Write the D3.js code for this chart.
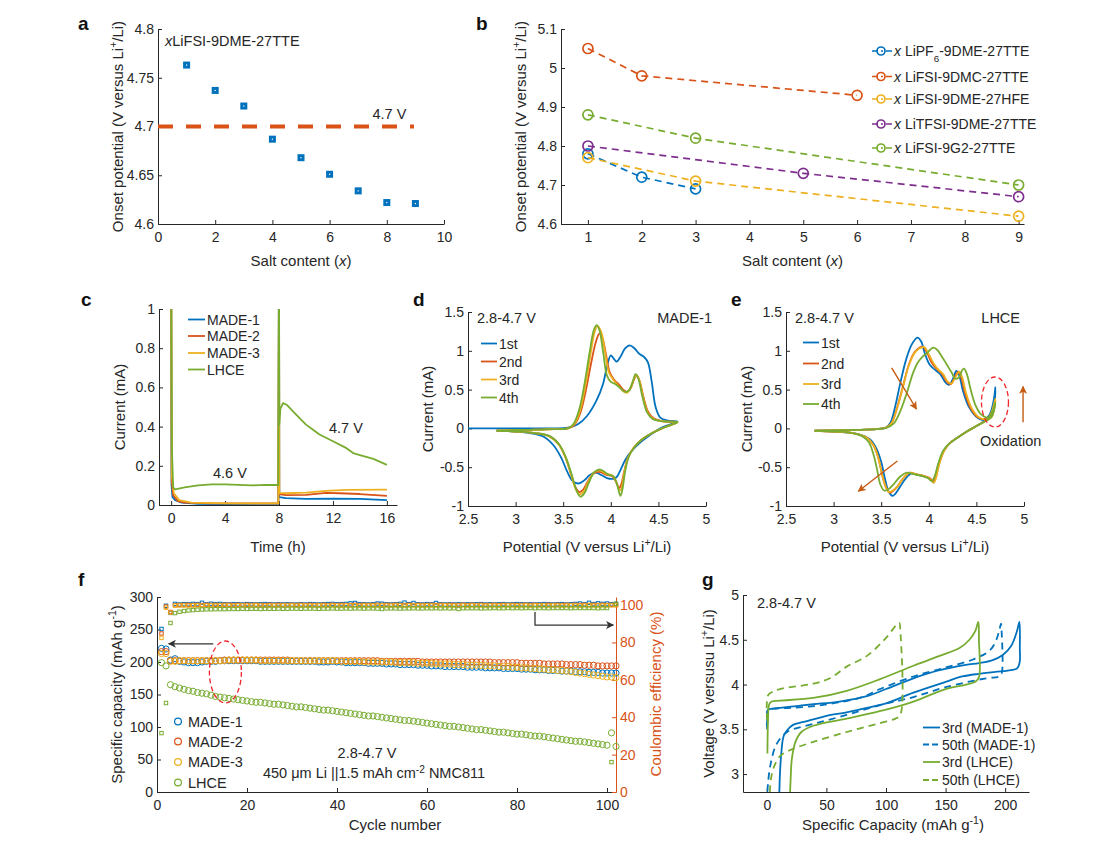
<!DOCTYPE html>
<html>
<head>
<meta charset="utf-8">
<script src="https://cdn.jsdelivr.net/npm/d3@7"></script>
<style>
  body { margin: 0; background: #fff; }
</style>
</head>
<body>
<script>
/* DATA */
// a: onset potential vs salt content
const saltA = [1, 2, 3, 4, 5, 6, 7, 8, 9];
const onsetA = [4.763, 4.737, 4.721, 4.687, 4.668, 4.651, 4.634, 4.622, 4.621];
const refLineA = [[0, 4.7], [8.95, 4.7]];

// b: five electrolyte families
const bLiPF6 = [[1, 4.78], [2, 4.72], [3, 4.69]];
const bDMC = [[1, 5.05], [2, 4.98], [6, 4.93]];
const bHFE = [[1, 4.77], [3, 4.71], [9, 4.62]];
const bTFSI = [[1, 4.80], [5, 4.73], [9, 4.67]];
const bG2 = [[1, 4.88], [3, 4.82], [9, 4.70]];
const bNames = ["*{x} LiPF_{6}-9DME-27TTE", "*{x} LiFSI-9DMC-27TTE", "*{x} LiFSI-9DME-27HFE", "*{x} LiTFSI-9DME-27TTE", "*{x} LiFSI-9G2-27TTE"];

// c: floating test current (time h, mA)
const cMADE1 = [[0, 1.3], [0.03, 0.1], [0.1, 0.04], [0.3, 0.025], [0.8, 0.012], [2, 0.006], [4, 0.005], [7.95, 0.006], [8, 1.3], [8.02, 0.04], [8.5, 0.035], [10, 0.031], [12, 0.033], [14, 0.031], [16, 0.025]];
const cMADE2 = [[0, 1.3], [0.04, 0.12], [0.15, 0.05], [0.5, 0.02], [1, 0.012], [3, 0.008], [7.95, 0.008], [8, 1.3], [8.02, 0.055], [8.5, 0.05], [10, 0.052], [11.5, 0.062], [12.5, 0.06], [14, 0.056], [16, 0.047]];
const cMADE3 = [[0, 1.3], [0.05, 0.15], [0.2, 0.06], [0.6, 0.025], [1.5, 0.012], [4, 0.008], [7.95, 0.008], [8, 1.3], [8.02, 0.062], [8.5, 0.06], [10, 0.063], [11.5, 0.072], [13, 0.077], [16, 0.078]];
const cLHCE = [[0, 1.3], [0.05, 0.3], [0.15, 0.09], [0.3, 0.08], [1, 0.09], [2, 0.1], [3, 0.105], [4, 0.105], [5, 0.103], [6, 0.1], [7, 0.103], [7.95, 0.102], [8, 1.3], [8.02, 0.41], [8.1, 0.49], [8.3, 0.52], [8.6, 0.51], [9, 0.48], [10, 0.41], [10.5, 0.385], [11, 0.36], [12, 0.325], [13, 0.29], [13.5, 0.265], [14, 0.255], [15, 0.235], [16, 0.205]];
const cNames = ["MADE-1", "MADE-2", "MADE-3", "LHCE"];

// d: CV of MADE-1 (V, mA)
const dCyc1 = [[2.5,0],[3.0,0],[3.4,0],[3.55,0.01],[3.65,0.05],[3.75,0.16],[3.85,0.36],[3.92,0.58],[3.96,0.8],[4.0,0.94],[4.03,0.9],[4.06,0.86],[4.1,0.92],[4.15,1.03],[4.2,1.07],[4.25,1.03],[4.3,0.96],[4.35,0.92],[4.39,0.85],[4.43,0.6],[4.47,0.28],[4.52,0.14],[4.6,0.1],[4.7,0.09],
  [4.62,0.05],[4.52,0],[4.42,-0.08],[4.32,-0.17],[4.22,-0.29],[4.15,-0.41],[4.1,-0.54],[4.06,-0.63],[4.02,-0.65],[3.96,-0.64],[3.9,-0.6],[3.84,-0.57],[3.78,-0.6],[3.72,-0.67],[3.66,-0.71],[3.6,-0.68],[3.54,-0.55],[3.48,-0.38],[3.4,-0.22],[3.3,-0.11],[3.15,-0.06],[3.0,-0.04],[2.8,-0.03]];
const dCyc2 = [[2.8,-0.03],[3.1,-0.02],[3.4,-0.01],[3.55,0],[3.62,0.05],[3.68,0.2],[3.74,0.5],[3.79,0.82],[3.84,1.1],[3.88,1.22],[3.91,1.17],[3.95,0.95],[3.99,0.72],[4.04,0.62],[4.09,0.56],[4.13,0.5],[4.17,0.47],[4.21,0.52],[4.24,0.62],[4.27,0.68],[4.3,0.62],[4.34,0.42],[4.39,0.22],[4.45,0.13],[4.55,0.09],[4.7,0.08],
  [4.62,0.04],[4.52,-0.01],[4.42,-0.07],[4.32,-0.15],[4.24,-0.25],[4.18,-0.38],[4.14,-0.56],[4.11,-0.72],[4.09,-0.77],[4.06,-0.7],[4.02,-0.62],[3.96,-0.6],[3.88,-0.56],[3.82,-0.58],[3.76,-0.68],[3.71,-0.79],[3.67,-0.82],[3.63,-0.76],[3.58,-0.58],[3.52,-0.36],[3.45,-0.2],[3.35,-0.1],[3.2,-0.06],[3.0,-0.04],[2.8,-0.03]];
const dCyc3 = [[2.8,-0.03],[3.1,-0.02],[3.4,-0.01],[3.55,0],[3.62,0.06],[3.68,0.24],[3.74,0.6],[3.79,0.98],[3.83,1.24],[3.86,1.32],[3.9,1.24],[3.94,0.98],[3.98,0.72],[4.03,0.62],[4.08,0.55],[4.13,0.48],[4.17,0.46],[4.21,0.53],[4.24,0.63],[4.27,0.69],[4.3,0.62],[4.34,0.4],[4.39,0.2],[4.45,0.12],[4.55,0.09],[4.7,0.08],
  [4.62,0.04],[4.52,-0.01],[4.42,-0.07],[4.32,-0.15],[4.24,-0.25],[4.18,-0.38],[4.14,-0.58],[4.11,-0.78],[4.09,-0.8],[4.06,-0.7],[4.02,-0.61],[3.96,-0.59],[3.88,-0.54],[3.82,-0.57],[3.76,-0.7],[3.71,-0.82],[3.67,-0.85],[3.63,-0.78],[3.58,-0.58],[3.52,-0.36],[3.45,-0.2],[3.35,-0.1],[3.2,-0.06],[3.0,-0.04],[2.8,-0.03]];
const dCyc4 = [[2.8,-0.03],[3.1,-0.02],[3.4,-0.01],[3.55,0],[3.61,0.06],[3.67,0.25],[3.73,0.62],[3.78,1.0],[3.82,1.26],[3.85,1.33],[3.88,1.27],[3.92,0.98],[3.96,0.68],[4.0,0.6],[4.05,0.57],[4.1,0.52],[4.15,0.47],[4.19,0.49],[4.23,0.6],[4.26,0.7],[4.29,0.64],[4.33,0.42],[4.38,0.21],[4.44,0.12],[4.55,0.09],[4.7,0.08],
  [4.62,0.04],[4.52,-0.01],[4.42,-0.07],[4.32,-0.15],[4.25,-0.24],[4.19,-0.36],[4.15,-0.56],[4.12,-0.8],[4.1,-0.87],[4.07,-0.74],[4.03,-0.62],[3.97,-0.59],[3.89,-0.53],[3.83,-0.56],[3.77,-0.7],[3.72,-0.84],[3.68,-0.88],[3.64,-0.8],[3.59,-0.6],[3.53,-0.38],[3.46,-0.21],[3.36,-0.1],[3.2,-0.06],[3.0,-0.04],[2.8,-0.03]];

// e: CV of LHCE
const eCyc1 = [[2.8,-0.03],[3.2,-0.02],[3.45,-0.01],[3.55,0.01],[3.6,0.08],[3.65,0.3],[3.7,0.58],[3.76,0.88],[3.82,1.08],[3.88,1.17],[3.92,1.12],[3.96,0.96],[4.01,0.82],[4.06,0.76],[4.12,0.7],[4.17,0.6],[4.21,0.56],[4.25,0.63],[4.29,0.74],[4.32,0.68],[4.36,0.48],[4.42,0.28],[4.5,0.15],[4.58,0.11],[4.64,0.18],[4.68,0.35],[4.7,0.53],
  [4.67,0.2],[4.6,0.11],[4.5,0.03],[4.4,-0.04],[4.3,-0.12],[4.22,-0.19],[4.16,-0.28],[4.11,-0.43],[4.07,-0.62],[4.05,-0.7],[4.02,-0.66],[3.96,-0.62],[3.88,-0.6],[3.82,-0.58],[3.76,-0.64],[3.7,-0.75],[3.65,-0.84],[3.62,-0.87],[3.58,-0.82],[3.54,-0.65],[3.5,-0.43],[3.45,-0.26],[3.38,-0.14],[3.25,-0.07],[3.0,-0.04],[2.8,-0.03]];
const eCyc2 = [[2.8,-0.03],[3.2,-0.02],[3.45,-0.01],[3.55,0.01],[3.61,0.07],[3.67,0.28],[3.73,0.55],[3.79,0.82],[3.85,0.98],[3.9,1.04],[3.94,1.05],[3.98,0.98],[4.03,0.85],[4.08,0.77],[4.14,0.7],[4.19,0.6],[4.23,0.57],[4.27,0.65],[4.31,0.73],[4.34,0.66],[4.38,0.46],[4.44,0.26],[4.52,0.14],[4.6,0.12],[4.66,0.2],[4.7,0.36],
  [4.66,0.15],[4.6,0.1],[4.5,0.03],[4.4,-0.04],[4.3,-0.12],[4.22,-0.19],[4.16,-0.29],[4.11,-0.45],[4.07,-0.64],[4.05,-0.68],[4.01,-0.64],[3.94,-0.61],[3.86,-0.59],[3.8,-0.57],[3.74,-0.63],[3.67,-0.75],[3.62,-0.81],[3.59,-0.83],[3.55,-0.76],[3.51,-0.6],[3.47,-0.38],[3.42,-0.22],[3.35,-0.12],[3.2,-0.06],[3.0,-0.04],[2.8,-0.03]];
const eCyc3 = [[2.8,-0.03],[3.2,-0.02],[3.45,-0.01],[3.55,0.01],[3.61,0.07],[3.67,0.27],[3.73,0.54],[3.79,0.81],[3.85,0.97],[3.9,1.03],[3.95,1.05],[3.99,0.98],[4.04,0.86],[4.09,0.77],[4.15,0.7],[4.2,0.6],[4.24,0.58],[4.28,0.66],[4.32,0.73],[4.35,0.66],[4.39,0.46],[4.45,0.26],[4.53,0.14],[4.61,0.12],[4.66,0.21],[4.7,0.38],
  [4.66,0.15],[4.6,0.1],[4.5,0.03],[4.4,-0.04],[4.3,-0.12],[4.22,-0.19],[4.16,-0.29],[4.11,-0.46],[4.07,-0.66],[4.05,-0.7],[4.01,-0.65],[3.94,-0.61],[3.86,-0.59],[3.8,-0.57],[3.74,-0.63],[3.67,-0.75],[3.62,-0.8],[3.58,-0.82],[3.55,-0.76],[3.51,-0.6],[3.47,-0.38],[3.42,-0.22],[3.35,-0.12],[3.2,-0.06],[3.0,-0.04],[2.8,-0.03]];
const eCyc4 = [[2.8,-0.03],[3.2,-0.02],[3.45,-0.01],[3.56,0.01],[3.63,0.06],[3.7,0.22],[3.77,0.46],[3.83,0.7],[3.88,0.84],[3.93,0.92],[3.98,0.97],[4.02,1.02],[4.05,1.04],[4.09,1.01],[4.14,0.92],[4.19,0.82],[4.24,0.72],[4.28,0.64],[4.32,0.66],[4.35,0.75],[4.37,0.77],[4.4,0.7],[4.44,0.5],[4.49,0.3],[4.55,0.18],[4.62,0.14],[4.67,0.22],[4.7,0.33],
  [4.66,0.15],[4.6,0.1],[4.5,0.03],[4.4,-0.04],[4.3,-0.12],[4.22,-0.19],[4.15,-0.29],[4.1,-0.45],[4.06,-0.62],[4.03,-0.68],[3.99,-0.64],[3.92,-0.61],[3.84,-0.59],[3.77,-0.57],[3.7,-0.62],[3.63,-0.72],[3.57,-0.79],[3.53,-0.8],[3.49,-0.72],[3.46,-0.55],[3.42,-0.34],[3.37,-0.18],[3.3,-0.1],[3.15,-0.05],[3.0,-0.04],[2.8,-0.03]];
const cycNames = ["1st", "2nd", "3rd", "4th"];

// f: cycling, capacity (mAh/g) and CE (%) per cycle 1..102
const capM1 = [221,220,203,205,201,200,199,199,199,200, 201,201,201,202,202,202,202,202,202,202, 202,202,201,201,201,201,201,201,201,201, 201,201,201,201,201,200,200,200,201,200,
  200,199,199,199,199,199,198,198,198,198, 197,197,197,196,196,196,196,195,195,195, 194,194,194,193,193,193,193,193,192,192, 192,192,191,191,191,191,190,190,190,190,
  189,189,189,188,188,188,187,187,187,186, 186,186,185,185,185,184,184,184,183,183, 183,183];
const capM2 = [216,216,202,202,202,202,202,202,202,202, 202,202,202,202,203,203,203,203,203,203, 203,203,203,203,203,203,203,203,203,202, 202,202,202,202,202,202,202,202,202,202,
  202,202,202,202,202,202,202,202,202,201, 201,201,201,201,201,201,201,201,200,200, 200,200,200,200,200,200,200,200,200,200, 200,200,200,200,199,199,199,199,199,199,
  198,198,198,198,198,197,197,197,197,197, 196,196,196,196,195,195,195,194,194,194, 194,194];
const capM3 = [213,213,201,201,202,202,202,202,202,202, 202,202,202,202,202,203,203,203,203,203, 203,203,202,202,202,202,202,202,202,202, 202,202,202,202,202,202,202,202,202,202,
  201,201,201,201,201,200,200,200,200,200, 200,200,199,199,199,199,199,198,198,198, 198,197,197,197,197,196,196,196,195,195, 195,195,194,194,194,193,193,193,192,192,
  191,191,190,190,189,189,188,188,187,187, 186,185,184,183,182,181,180,179,178,177, 177,176];
const capLH = [199,194,165,162,160,158,156,155,153,152, 151,149,147,146,145,144,143,142,141,140, 139,138,138,137,136,135,135,134,133,132, 131,131,130,129,128,127,126,126,125,124,
  123,122,121,120,119,118,117,117,116,115, 114,113,112,111,110,110,109,108,107,106, 105,104,103,102,101,101,100,99,98,97, 96,96,95,94,93,92,92,91,90,89,
  89,88,87,86,86,85,84,83,82,81, 80,79,78,78,77,76,75,74,73,72, 91,70];
const ceM1 = [87.2,99.6,95.8,100.6,100.3,100.5,100.4,100.6,100.5,101.2, 100.4,100.7,100.5,100.6,100.4,100.3,100.5,100.4,100.3,100.5, 100.4,100.3,100.4,100.5,100.4,100.3,100.4,100.3,100.4,100.3,
  100.3,100.4,100.3,100.5,100.4,100.3,100.4,100.5,100.6,100.4, 100.5,100.6,100.9,101.1,100.5,100.4,100.3,100.4,100.8,100.7, 100.4,100.3,100.4,100.6,101.3,100.5,101.1,100.4,100.3,100.5,
  100.4,101.1,100.4,100.3,100.4,100.3,100.4,100.3,100.4,100.3, 100.4,100.5,100.3,100.4,100.3,100.4,100.5,100.3,100.4,100.5, 100.4,100.3,100.4,100.3,100.4,100.5,100.4,100.3,100.4,100.5,
  100.3,100.4,100.6,100.8,100.4,101.2,100.5,100.9,100.6,100.8, 100.4,100.6];
const ceM2 = [84.8,99.2,96.3,99.9,100.0,100.0,100.1,100.0,100.1,100.0, 100.1,100.0,100.1,100.0,100.1,100.1,100.0,100.1,100.0,100.1, 100.0,100.1,100.0,100.0,100.1,100.0,100.1,100.0,100.0,100.1,
  100.0,100.1,100.0,100.1,100.0,100.0,100.1,100.0,100.1,100.0, 100.1,100.0,100.0,100.1,100.0,100.1,100.0,100.0,100.1,100.0, 100.1,100.0,100.1,100.0,100.0,100.1,100.0,100.1,100.0,100.0,
  100.1,100.0,100.1,100.0,100.1,100.0,100.0,100.1,100.0,100.1, 100.0,100.1,100.0,100.0,100.1,100.0,100.1,100.0,100.1,100.0, 100.0,100.1,100.0,100.1,100.0,100.0,100.1,100.0,100.1,100.0,
  100.1,100.0,100.1,100.0,100.1,100.0,100.1,100.0,100.1,100.0, 100.1,100.0];
const ceM3 = [82.4,98.6,95.9,99.7,99.8,99.8,99.7,99.8,99.8,99.7, 99.8,99.8,99.7,99.8,99.8,99.8,99.7,99.8,99.8,99.7, 99.8,99.8,99.8,99.7,99.8,99.8,99.7,99.8,99.8,99.8,
  99.7,99.8,99.8,99.7,99.8,99.8,99.8,99.7,99.8,99.8, 99.7,99.8,99.8,99.8,99.7,99.8,99.8,99.7,99.8,99.8, 99.8,99.7,99.8,99.8,99.7,99.8,99.8,99.8,99.7,99.8,
  99.8,99.7,99.8,99.8,99.8,99.7,99.8,99.8,99.7,99.8, 99.8,99.8,99.7,99.8,99.8,99.7,99.8,99.8,99.8,99.7, 99.8,99.8,99.7,99.8,99.8,99.8,99.7,99.8,99.8,99.7,
  99.8,99.8,99.8,99.7,99.8,99.8,99.7,99.8,99.8,99.8, 99.8,99.9];
const ceLH = [31.5,47.6,90.4,95.7,96.4,96.8,97.1,97.3,97.5,97.6, 97.7,97.7,97.8,97.8,97.8,97.9,97.9,97.9,98.0,97.9, 98.0,98.0,97.9,98.0,98.0,98.0,98.1,98.0,98.0,98.1,
  98.1,98.0,98.1,98.1,98.1,98.0,98.1,98.1,98.2,98.1, 98.1,98.2,98.1,98.2,98.2,98.1,98.2,98.2,98.1,97.9, 98.2,98.2,98.2,98.1,98.2,98.2,98.3,98.2,98.2,98.3,
  98.2,98.3,98.2,98.3,98.2,98.3,97.9,98.3,98.3,98.3, 98.3,98.2,98.3,98.3,98.4,98.3,98.3,98.4,98.3,98.4, 98.3,98.4,98.4,98.3,98.4,98.4,98.3,98.4,98.4,98.4,
  98.4,98.3,98.4,98.4,98.4,98.4,98.4,98.3,98.4,98.4, 16.0,100.7];
const fNames = ["MADE-1", "MADE-2", "MADE-3", "LHCE"];

// g: voltage profiles (mAh/g, V)
const g3rdM1 = [[0.5,3.55],[1,3.72],[5,3.73],[11,3.74],[25,3.76],[39,3.78],[61,3.81],[84,3.87],[100,3.95],[123,4.07],[145,4.16],[167,4.22],[178,4.24],[189,4.27],[198,4.33],[205,4.43],[210,4.6],[212,4.7],
  [212.3,4.4],[212.2,4.25],[210,4.18],[205,4.16],[198,4.15],[178,4.12],[164,4.09],[150,4.03],[123,3.91],[100,3.79],[84,3.74],[67,3.69],[50,3.65],[39,3.61],[30,3.58],[22,3.55],[17,3.49],[14,3.42],[12,3.21],[11,3.0],[10.5,2.8]];
const g50thM1 = [[0.3,3.5],[1,3.72],[5,3.73],[20,3.74],[40,3.76],[60,3.8],[80,3.86],[95,3.95],[123,4.09],[150,4.19],[173,4.28],[187,4.38],[192,4.48],[195,4.6],[196.5,4.68],
  [197,4.6],[197,4.12],[195,4.09],[184,4.07],[150,3.97],[123,3.86],[95,3.77],[67,3.66],[39,3.56],[17,3.47],[8,3.33],[3,3.1],[1,2.9],[0.5,2.8]];
const g3rdLH = [[0.5,3.23],[1,3.6],[2,3.78],[4,3.81],[11,3.82],[39,3.85],[67,3.93],[95,4.06],[123,4.21],[145,4.32],[162,4.41],[170,4.5],[175,4.6],[177.5,4.7],
  [178,4.5],[178,4.08],[175,4.03],[167,4.0],[150,3.95],[123,3.81],[100,3.72],[67,3.62],[39,3.54],[29,3.47],[24,3.36],[21,3.17],[20,2.95],[19.5,2.8]];
const g50thLH = [[0.3,3.6],[1,3.88],[5,3.92],[11,3.95],[39,4.01],[53,4.07],[67,4.2],[84,4.32],[100,4.52],[111,4.69],
  [112,4.6],[112,3.66],[108,3.62],[95,3.57],[67,3.47],[39,3.36],[20,3.27],[11,3.2],[6,3.08],[3.5,2.95],[2.5,2.8]];
const gNames = ["3rd (MADE-1)", "50th (MADE-1)", "3rd (LHCE)", "50th (LHCE)"];

// tick values
const ticksAx = [0, 2, 4, 6, 8, 10], ticksAy = [4.6, 4.65, 4.7, 4.75, 4.8];
const ticksBx = [1, 2, 3, 4, 5, 6, 7, 8, 9], ticksBy = [4.6, 4.7, 4.8, 4.9, 5, 5.1];
const ticksCx = [0, 4, 8, 12, 16], ticksCy = [0, 0.2, 0.4, 0.6, 0.8, 1];
const ticksCVx = [2.5, 3, 3.5, 4, 4.5, 5], ticksCVy = [-1, -0.5, 0, 0.5, 1, 1.5];
const ticksFx = [0, 20, 40, 60, 80, 100], ticksFy = [0, 50, 100, 150, 200, 250, 300], ticksFr = [0, 20, 40, 60, 80, 100];
const ticksGx = [0, 50, 100, 150, 200], ticksGy = [3, 3.5, 4, 4.5, 5];

/* STYLE */
const FONT = '"Liberation Sans", Arial, Helvetica, sans-serif';
const AX = "#262626";
const BLUE = "#0072BD", ORANGE = "#D95319", YELLOW = "#EDB120", PURPLE = "#7E2F8E", GREEN = "#77AC30";
const four = [BLUE, ORANGE, YELLOW, GREEN];

const svg = d3.select("body").append("svg")
  .attr("width", 1095).attr("height", 853)
  .attr("font-family", FONT).attr("fill", AX);

const defs = svg.append("defs");
function arrowMarker(id, color) {
  defs.append("marker").attr("id", id).attr("viewBox", "0 0 10 10")
    .attr("refX", 9).attr("refY", 5).attr("markerWidth", 10).attr("markerHeight", 8)
    .attr("markerUnits", "userSpaceOnUse").attr("orient", "auto")
    .append("path").attr("d", "M0,0 L10,5 L0,10 L2.5,5 Z").attr("fill", color);
}
arrowMarker("arrK", "#333");
arrowMarker("arrO", "#C55A11");

// text with ^{sup}, _{sub}, *{italic}
function rich(t, s) {
  s.split(/(\^\{[^}]*\}|_\{[^}]*\}|\*\{[^}]*\})/).forEach(p => {
    if (!p) return;
    const ts = t.append("tspan");
    if (p.startsWith("^{")) ts.attr("baseline-shift", "super").attr("font-size", "0.7em").text(p.slice(2, -1));
    else if (p.startsWith("_{")) ts.attr("baseline-shift", "sub").attr("font-size", "0.7em").text(p.slice(2, -1));
    else if (p.startsWith("*{")) ts.attr("font-style", "italic").text(p.slice(2, -1));
    else ts.text(p);
  });
  return t;
}

const fmt = d => String(d);

function panel(p) {
  const x = d3.scaleLinear().domain(p.xd).range([p.x0, p.x1]);
  const y = d3.scaleLinear().domain(p.yd).range([p.y1, p.y0]);
  const g = svg.append("g");
  const ax = g.append("g").attr("transform", `translate(0,${p.y1})`)
    .call(d3.axisBottom(x).tickValues(p.xt).tickSizeInner(-4).tickSizeOuter(0).tickPadding(8).tickFormat(fmt));
  const ay = g.append("g").attr("transform", `translate(${p.x0},0)`)
    .call(d3.axisLeft(y).tickValues(p.yt).tickSizeInner(-4).tickSizeOuter(0).tickPadding(4).tickFormat(fmt));
  [ax, ay].forEach(a => {
    a.attr("font-family", FONT).attr("font-size", 14);
    a.selectAll("path,line").attr("stroke", AX);
    a.selectAll("text").attr("fill", AX);
  });
  rich(g.append("text").attr("x", p.xlx || (p.x0 + p.x1) / 2).attr("y", p.xly)
    .attr("text-anchor", "middle").attr("font-size", 15), p.xl);
  rich(g.append("text").attr("transform", `translate(${p.ylx},${(p.y0 + p.y1) / 2}) rotate(-90)`)
    .attr("text-anchor", "middle").attr("dy", "0.35em").attr("font-size", 15), p.yl);
  g.append("text").attr("x", p.lx).attr("y", p.ly).attr("font-weight", "bold")
    .attr("font-size", 19).attr("fill", "#111").text(p.letter);
  return { x, y, g };
}

const line = (x, y, curve) => d3.line().x(d => x(d[0])).y(d => y(d[1])).curve(curve || d3.curveLinear);

/* PANEL a */
{
  const { x, y, g } = panel({ x0: 158, x1: 444, y0: 29, y1: 224, xd: [0, 10], yd: [4.6, 4.8],
    xt: ticksAx, yt: ticksAy, xl: "Salt content (*{x})", xly: 266, yl: "Onset potential (V versus Li^{+}/Li)",
    ylx: 118, letter: "a", lx: 78, ly: 30 });
  g.append("path").attr("d", line(x, y)(refLineA)).attr("fill", "none")
    .attr("stroke", ORANGE).attr("stroke-width", 4).attr("stroke-dasharray", "15,13");
  g.selectAll("rect.pt").data(saltA).join("rect").attr("class", "pt")
    .attr("x", (d, i) => x(d) - 3.5).attr("y", (d, i) => y(onsetA[i]) - 3.5)
    .attr("width", 7).attr("height", 7).attr("fill", BLUE);
  g.selectAll("rect.dot").data(saltA).join("rect").attr("class", "dot")
    .attr("x", (d, i) => x(d) - 0.6).attr("y", (d, i) => y(onsetA[i]) - 0.6)
    .attr("width", 1.2).attr("height", 1.2).attr("fill", "#fff");
  rich(g.append("text").attr("x", 165).attr("y", 46).attr("font-size", 14.5), "*{x}LiFSI-9DME-27TTE");
  g.append("text").attr("x", x(7.5)).attr("y", y(4.7) - 8).attr("font-size", 14.5).text("4.7 V");
}

/* PANEL b */
{
  const { x, y, g } = panel({ x0: 561, x1: 1024, y0: 29, y1: 224, xd: [0.5, 9.1], yd: [4.6, 5.1],
    xt: ticksBx, yt: ticksBy, xl: "Salt content (*{x})", xly: 266, yl: "Onset potential (V versus Li^{+}/Li)",
    ylx: 521, letter: "b", lx: 476, ly: 30 });
  const sets = [bLiPF6, bDMC, bHFE, bTFSI, bG2];
  const cols = [BLUE, ORANGE, YELLOW, PURPLE, GREEN];
  sets.forEach((s, i) => {
    g.append("path").attr("d", line(x, y)(s)).attr("fill", "none")
      .attr("stroke", cols[i]).attr("stroke-width", 1.7).attr("stroke-dasharray", "7,5");
    g.selectAll(null).data(s).join("circle").attr("cx", d => x(d[0])).attr("cy", d => y(d[1]))
      .attr("r", 5).attr("fill", "none").attr("stroke", cols[i]).attr("stroke-width", 1.7);
  });
  const rows = [51, 76.5, 99, 124, 148];
  bNames.forEach((n, i) => {
    g.append("line").attr("x1", 872).attr("x2", 892).attr("y1", rows[i]).attr("y2", rows[i])
      .attr("stroke", cols[i]).attr("stroke-width", 1.7).attr("stroke-dasharray", "6,3,2,3");
    g.append("circle").attr("cx", 881).attr("cy", rows[i]).attr("r", 4)
      .attr("fill", "none").attr("stroke", cols[i]).attr("stroke-width", 1.7);
    rich(g.append("text").attr("x", 894).attr("y", rows[i]).attr("dy", "0.36em").attr("font-size", 14), n);
  });
}

/* PANEL c */
{
  const { x, y, g } = panel({ x0: 159, x1: 397, y0: 309, y1: 505, xd: [-0.9, 16.75], yd: [0, 1],
    xt: ticksCx, yt: ticksCy, xl: "Time (h)", xly: 552, yl: "Current (mA)",
    ylx: 120, letter: "c", lx: 81, ly: 306 });
  defs.append("clipPath").attr("id", "clipC").append("rect")
    .attr("x", 159).attr("y", 309).attr("width", 238).attr("height", 197);
  const cg = g.append("g").attr("clip-path", "url(#clipC)");
  [cMADE1, cMADE2, cMADE3, cLHCE].forEach((s, i) => {
    cg.append("path").attr("d", line(x, y)(s)).attr("fill", "none")
      .attr("stroke", four[i]).attr("stroke-width", 1.8).attr("stroke-linejoin", "round");
  });
  const rows = [319.5, 336, 353, 369.5];
  cNames.forEach((n, i) => {
    g.append("line").attr("x1", 188).attr("x2", 205).attr("y1", rows[i]).attr("y2", rows[i])
      .attr("stroke", four[i]).attr("stroke-width", 1.8);
    g.append("text").attr("x", 207).attr("y", rows[i]).attr("dy", "0.36em").attr("font-size", 14).text(n);
  });
  g.append("text").attr("x", 213).attr("y", 478).attr("font-size", 14.5).text("4.6 V");
  g.append("text").attr("x", 329).attr("y", 433).attr("font-size", 14.5).text("4.7 V");
}

/* PANELS d and e */
function cvPanel(o) {
  const { x, y, g } = panel({ x0: o.x0, x1: o.x0 + 238, y0: 312, y1: 506, xd: [2.5, 5], yd: [-1, 1.5],
    xt: ticksCVx, yt: ticksCVy, xl: "Potential (V versus Li^{+}/Li)", xly: 552, yl: "Current (mA)",
    ylx: o.ylx, letter: o.letter, lx: o.lx, ly: 306 });
  o.cycles.forEach((s, i) => {
    g.append("path").attr("d", line(x, y, d3.curveCatmullRom.alpha(0.5))(s)).attr("fill", "none")
      .attr("stroke", four[i]).attr("stroke-width", 1.8).attr("stroke-linejoin", "round");
  });
  cycNames.forEach((n, i) => {
    const yy = o.rows[i];
    g.append("line").attr("x1", o.lgx).attr("x2", o.lgx + 16).attr("y1", yy).attr("y2", yy)
      .attr("stroke", four[i]).attr("stroke-width", 1.8);
    g.append("text").attr("x", o.lgx + 18).attr("y", yy).attr("dy", "0.36em").attr("font-size", 14).text(n);
  });
  g.append("text").attr("x", o.x0 + 9).attr("y", 323).attr("font-size", 14.5).text("2.8-4.7 V");
  g.append("text").attr("x", o.tagx).attr("y", 323).attr("text-anchor", "end").attr("font-size", 14.5).text(o.tag);
  return { x, y, g };
}
cvPanel({ x0: 468, ylx: 428, letter: "d", lx: 413, cycles: [dCyc1, dCyc2, dCyc3, dCyc4],
  rows: [343.5, 361.5, 379.5, 397.5], lgx: 481, tag: "MADE-1", tagx: 712 });
{
  const { x, y, g } = cvPanel({ x0: 786, ylx: 747, letter: "e", lx: 731, cycles: [eCyc1, eCyc2, eCyc3, eCyc4],
    rows: [342.5, 363.5, 384, 404], lgx: 803, tag: "LHCE", tagx: 1020 });
  const arr = (a, b) => g.append("line").attr("x1", x(a[0])).attr("y1", y(a[1])).attr("x2", x(b[0])).attr("y2", y(b[1]))
    .attr("stroke", "#C55A11").attr("stroke-width", 1.4).attr("marker-end", "url(#arrO)");
  arr([3.61, 0.78], [3.87, 0.25]);
  arr([3.67, -0.42], [3.26, -0.81]);
  arr([4.99, 0.08], [4.99, 0.54]);
  g.append("ellipse").attr("cx", x(4.695)).attr("cy", y(0.34)).attr("rx", 13.5).attr("ry", 25)
    .attr("fill", "none").attr("stroke", "#F0262B").attr("stroke-width", 1.3).attr("stroke-dasharray", "5,3");
  g.append("text").attr("x", 980).attr("y", 446).attr("font-size", 14.5).text("Oxidation");
}

/* PANEL f */
{
  const { x, y, g } = panel({ x0: 157, x1: 616, y0: 597, y1: 792, xd: [0, 102], yd: [0, 300],
    xt: ticksFx, yt: ticksFy, xl: "Cycle number", xlx: 395, xly: 830, yl: "Specific capacity (mAh g^{-1})",
    ylx: 117, letter: "f", lx: 78, ly: 586 });
  const yR = d3.scaleLinear().domain([0, 104.3]).range([792, 597]);
  const ar = g.append("g").attr("transform", "translate(616,0)")
    .call(d3.axisRight(yR).tickValues(ticksFr).tickSizeInner(-4).tickSizeOuter(0).tickPadding(4).tickFormat(fmt));
  ar.attr("font-family", FONT).attr("font-size", 14);
  ar.selectAll("path,line").attr("stroke", ORANGE);
  ar.selectAll("text").attr("fill", ORANGE);
  g.append("text").attr("transform", "translate(656,694) rotate(-90)").attr("text-anchor", "middle")
    .attr("dy", "0.35em").attr("font-size", 15).attr("fill", ORANGE).text("Coulombic efficiency (%)");

  [ceM1, ceM2, ceM3, ceLH].forEach((s, i) => {
    g.selectAll(null).data(s).join("rect")
      .attr("x", (d, k) => x(k + 1) - 1.7).attr("y", d => yR(d) - 1.7).attr("width", 3.4).attr("height", 3.4)
      .attr("fill", "none").attr("stroke", four[i]).attr("stroke-width", 1);
  });
  [capM1, capM2, capM3, capLH].forEach((s, i) => {
    g.selectAll(null).data(s).join("circle")
      .attr("cx", (d, k) => x(k + 1)).attr("cy", d => y(d)).attr("r", 3.1)
      .attr("fill", "none").attr("stroke", four[i]).attr("stroke-width", 1);
  });
  const rows = [721.5, 741.5, 762, 782.5];
  fNames.forEach((n, i) => {
    g.append("circle").attr("cx", 178).attr("cy", rows[i]).attr("r", 3.4)
      .attr("fill", "none").attr("stroke", four[i]).attr("stroke-width", 1.2);
    g.append("text").attr("x", 188).attr("y", rows[i]).attr("dy", "0.36em").attr("font-size", 14.5).text(n);
  });
  g.append("text").attr("x", 367).attr("y", 758).attr("text-anchor", "middle").attr("font-size", 14.5).text("2.8-4.7 V");
  rich(g.append("text").attr("x", 374).attr("y", 778).attr("text-anchor", "middle").attr("font-size", 14.5),
    "450 μm Li ||1.5 mAh cm^{-2} NMC811");
  // arrows and marker ellipse
  g.append("line").attr("x1", x(12.5)).attr("y1", y(228)).attr("x2", x(2.6)).attr("y2", y(228))
    .attr("stroke", "#333").attr("stroke-width", 1.3).attr("marker-end", "url(#arrK)");
  g.append("path").attr("d", `M${x(84)},${yR(96.3)} V${yR(89.3)} H${x(101.4)}`).attr("fill", "none")
    .attr("stroke", "#333").attr("stroke-width", 1.3).attr("marker-end", "url(#arrK)");
  g.append("ellipse").attr("cx", x(15.2)).attr("cy", y(184.6)).attr("rx", 16).attr("ry", 31)
    .attr("fill", "none").attr("stroke", "#F0262B").attr("stroke-width", 1.3).attr("stroke-dasharray", "5,3");
}

/* PANEL g */
{
  const { x, y, g } = panel({ x0: 743, x1: 1029, y0: 595, y1: 792, xd: [-20, 220], yd: [2.8, 5],
    xt: ticksGx, yt: ticksGy, xl: "Specific Capacity (mAh g^{-1})", xlx: 893, xly: 830,
    yl: "Voltage (V versusu Li^{+}/Li)", ylx: 709, letter: "g", lx: 702, ly: 586 });
  const sets = [g3rdM1, g50thM1, g3rdLH, g50thLH];
  const cols = [BLUE, BLUE, GREEN, GREEN];
  const dash = [null, "7,5", null, "7,5"];
  sets.forEach((s, i) => {
    g.append("path").attr("d", line(x, y, d3.curveCatmullRom.alpha(0.5))(s)).attr("fill", "none")
      .attr("stroke", cols[i]).attr("stroke-width", 1.8).attr("stroke-dasharray", dash[i]);
  });
  const rows = [727.5, 744.5, 762, 780];
  gNames.forEach((n, i) => {
    g.append("line").attr("x1", 923).attr("x2", 940).attr("y1", rows[i]).attr("y2", rows[i])
      .attr("stroke", cols[i]).attr("stroke-width", 1.8).attr("stroke-dasharray", dash[i] ? "6,3" : null);
    g.append("text").attr("x", 942).attr("y", rows[i]).attr("dy", "0.36em").attr("font-size", 14).text(n);
  });
  g.append("text").attr("x", 757).attr("y", 608).attr("font-size", 14.5).text("2.8-4.7 V");
}
</script>
</body>
</html>
